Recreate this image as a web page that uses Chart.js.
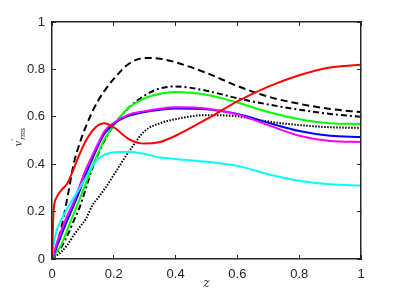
<!DOCTYPE html>
<html>
<head>
<meta charset="utf-8">
<script src="https://cdn.jsdelivr.net/npm/chart.js@4"></script>
<style>
  html, body { margin: 0; padding: 0; background: #fff; }
  canvas { display: block; }
</style>
</head>
<body>
<canvas id="grafico" width="399" height="299"></canvas>
<script>
// valores: eje z común y una serie por curva
const zVals = [0, 0.005, 0.015, 0.03, 0.05, 0.07, 0.09, 0.11, 0.13, 0.15, 0.17, 0.2, 0.25, 0.3, 0.35, 0.4, 0.5, 0.6, 0.7, 0.8, 0.9, 1.0];

const rojo     = [0, 0.20, 0.26, 0.29, 0.32, 0.38, 0.445, 0.50, 0.54, 0.565, 0.573, 0.555, 0.505, 0.487, 0.494, 0.52, 0.59, 0.665, 0.727, 0.775, 0.808, 0.82];
const cian     = [0, 0.06, 0.12, 0.165, 0.215, 0.258, 0.30, 0.345, 0.39, 0.423, 0.44, 0.45, 0.453, 0.443, 0.428, 0.422, 0.41, 0.393, 0.358, 0.33, 0.315, 0.31];
const magenta  = [0, 0.02, 0.065, 0.12, 0.185, 0.24, 0.31, 0.38, 0.435, 0.49, 0.54, 0.575, 0.61, 0.624, 0.634, 0.64, 0.635, 0.61, 0.565, 0.52, 0.498, 0.494];
const azul     = [0, 0.015, 0.05, 0.10, 0.165, 0.225, 0.29, 0.36, 0.42, 0.48, 0.53, 0.57, 0.605, 0.62, 0.63, 0.635, 0.632, 0.612, 0.575, 0.54, 0.52, 0.515];
const verde    = [0, 0.01, 0.03, 0.06, 0.125, 0.19, 0.255, 0.32, 0.39, 0.45, 0.505, 0.565, 0.64, 0.678, 0.697, 0.705, 0.693, 0.66, 0.62, 0.59, 0.573, 0.57];
const punteada = [0, 0.005, 0.015, 0.03, 0.06, 0.10, 0.135, 0.17, 0.225, 0.26, 0.295, 0.355, 0.455, 0.54, 0.573, 0.59, 0.607, 0.602, 0.58, 0.565, 0.556, 0.553];
const rayaPunto = [0, 0.008, 0.025, 0.05, 0.10, 0.16, 0.22, 0.30, 0.38, 0.445, 0.50, 0.565, 0.64, 0.69, 0.72, 0.728, 0.71, 0.678, 0.652, 0.63, 0.612, 0.60];
const rayada   = [0, 0.015, 0.06, 0.13, 0.26, 0.40, 0.49, 0.56, 0.62, 0.67, 0.71, 0.76, 0.825, 0.848, 0.845, 0.83, 0.785, 0.73, 0.685, 0.655, 0.633, 0.62];

const ticksZ = [0, 0.2, 0.4, 0.6, 0.8, 1];
const ticksV = [0, 0.2, 0.4, 0.6, 0.8, 1];

const puntos = serie => zVals.map((z, i) => ({ x: z, y: serie[i] }));

// el primer dataset se dibuja encima
function curva(serie, color, dash) {
    return {
        data: puntos(serie),
        xAxisID: 'x',
        yAxisID: 'y',
        borderColor: color,
        borderWidth: 2,
        borderDash: dash || [],
        pointRadius: 0,
        fill: false,
        cubicInterpolationMode: 'monotone'
    };
}

const colorEje = '#262626';
const fuente = '"Liberation Sans", Arial, Helvetica, sans-serif';

// eje estilo MATLAB: marcas hacia dentro (tickLength negativo), caja completa
function eje(posicion, ticks, conEtiquetas, padding) {
    const horizontal = posicion === 'bottom' || posicion === 'top';
    return {
        type: 'linear',
        position: posicion,
        display: true,
        min: 0, max: 1,
        afterFit: s => {
            if (horizontal) s.height = conEtiquetas ? 40 : 2;
            else s.width = conEtiquetas ? 52 : 2;
        },
        afterBuildTicks: s => { s.ticks = ticks.map(v => ({ value: v })); },
        grid: { display: true, drawOnChartArea: false, drawTicks: true, tickLength: -4, color: colorEje, lineWidth: 1, z: 1 },
        border: { display: true, color: colorEje, width: 1.5, z: 1 },
        ticks: {
            display: conEtiquetas,
            color: colorEje,
            font: { family: fuente, size: 13 },
            padding: padding,
            maxRotation: 0,
            callback: v => String(v)
        }
    };
}

// etiquetas de los ejes (z y v'_rms con sub/superíndice)
const etiquetas = {
    id: 'etiquetas',
    afterDraw(chart) {
        const ctx = chart.ctx;
        const sx = chart.scales.x;
        ctx.save();
        ctx.fillStyle = colorEje;
        ctx.font = 'italic 12px "DejaVu Serif", "Liberation Serif", serif';
        ctx.textAlign = 'center';
        ctx.textBaseline = 'alphabetic';
        ctx.fillText('z', (sx.left + sx.right) / 2, 287);

        ctx.translate(22, 135);
        ctx.rotate(-Math.PI / 2);
        ctx.textAlign = 'left';
        ctx.font = 'italic 12px "Liberation Serif", "DejaVu Serif", serif';
        const wV = ctx.measureText('v').width;
        const x0 = -(wV + 17) / 2;
        ctx.fillText('v', x0, 0);
        ctx.font = '9px "Liberation Serif", serif';
        ctx.fillText('\u2032', x0 + wV, -5);
        ctx.font = 'italic 8px "Liberation Serif", "DejaVu Serif", serif';
        ctx.fillText('rms', x0 + wV + 1, 3);
        ctx.restore();
    }
};

new Chart(document.getElementById('grafico'), {
    type: 'line',
    data: {
        datasets: [
            curva(rojo, '#ff0000'),
            curva(cian, '#00ffff'),
            curva(magenta, '#ff00ff'),
            curva(azul, '#0000ff'),
            curva(verde, '#00ff00'),
            curva(punteada, '#000000', [1.5, 1.5]),
            curva(rayaPunto, '#000000', [6, 3, 2, 3]),
            curva(rayada, '#000000', [7, 4])
        ]
    },
    options: {
        responsive: false,
        animation: false,
        devicePixelRatio: 1,
        layout: { padding: { top: 20, right: 36, left: 0, bottom: 0 } },
        plugins: { legend: { display: false }, tooltip: { enabled: false } },
        scales: {
            x: eje('bottom', ticksZ, true, 12),
            y: eje('left', ticksV, true, 11),
            xArriba: eje('top', ticksZ, false, 0),
            yDerecha: eje('right', ticksV, false, 0)
        }
    },
    plugins: [etiquetas]
});
</script>
</body>
</html>
